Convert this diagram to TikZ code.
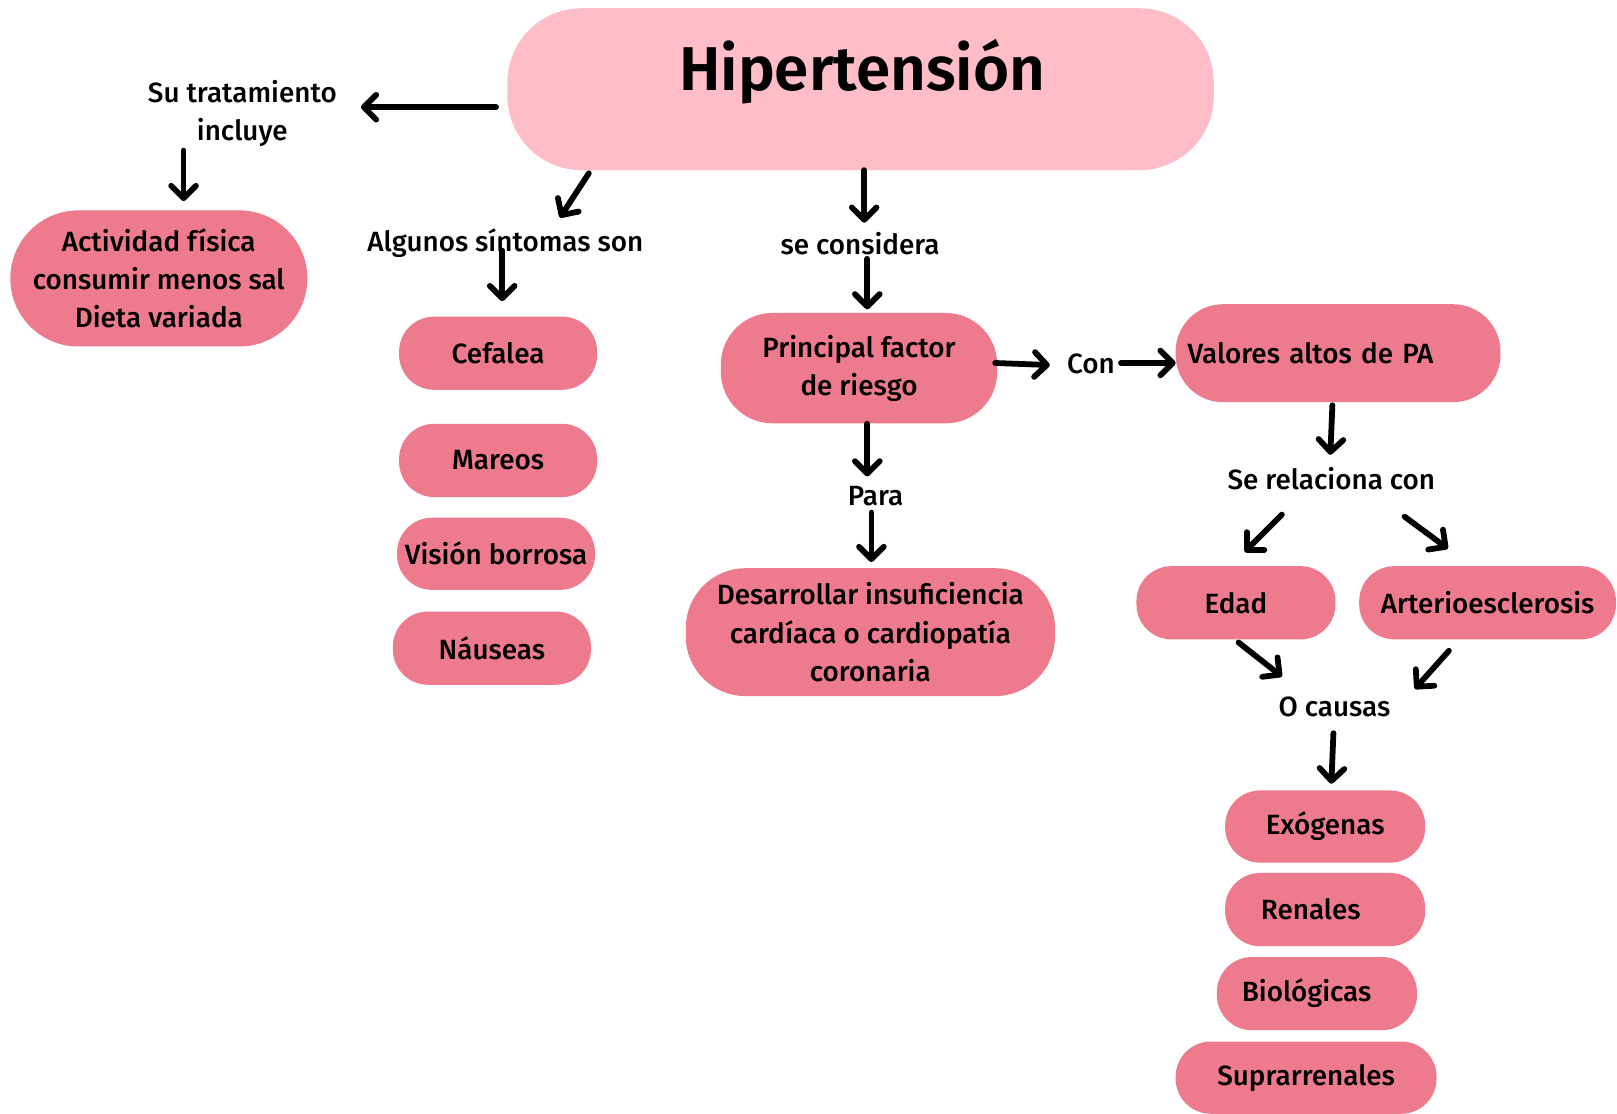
\documentclass[tikz,border=0pt]{standalone}
\usepackage{fontspec}
\setmainfont{Fira Sans}[UprightFont={* Medium}, BoldFont={* SemiBold}]
\usetikzlibrary{arrows.meta,calc}
\definecolor{lightpk}{HTML}{FFBDC7}
\definecolor{darkpk}{HTML}{EE7B8D}
\begin{document}
\begin{tikzpicture}[x=0.5pt,y=-0.5pt,
  txt/.style={font=\fontsize{13.5}{18.5}\selectfont},
  pill/.style={fill=darkpk, draw=none, rounded corners=#1, inner sep=0pt, align=center, txt},
  lbl/.style={inner sep=1pt, align=center, txt},
  arr/.style={line width=2.8pt, line cap=round, -{Straight Barb[length=6pt,width=12pt,round]}}]
\useasboundingbox (0,0) rectangle (1568,1080);
\fill[white] (0,0) rectangle (1568,1080);

% boxes
\node[pill=36pt, fill=lightpk, minimum width=342.5pt, minimum height=78.5pt] (hip) at (834.5,86.5) {};
\node[font=\fontsize{30}{36}\selectfont\bfseries, inner sep=0pt] (hipt) at (836,70) {Hipertensión};
\node[pill=33pt, minimum width=144pt, minimum height=66pt] (act) at (154,270) {Actividad física\\consumir menos sal\\Dieta variada};
\node[pill=17pt, minimum width=96pt, minimum height=35.5pt] (cef) at (483,342.5) {Cefalea};
\node[pill=17pt, minimum width=96pt, minimum height=35.5pt] (mar) at (483,446.5) {Mareos};
\node[pill=17pt, minimum width=96pt, minimum height=35pt] (vis) at (481,537) {Visión borrosa};
\node[pill=17pt, minimum width=96pt, minimum height=35.5pt] (nau) at (477,628.5) {Náuseas};
\node[pill=25pt, minimum width=134pt, minimum height=53.5pt] (pfr) at (833,357) {Principal factor\\de riesgo};
\node[pill=29pt, minimum width=179pt, minimum height=62pt] (des) at (844,613) {Desarrollar insuficiencia\\cardíaca o cardiopatía\\coronaria};
\node[pill=23pt, minimum width=157.5pt, minimum height=47.5pt, text width=150pt, align=left] (val) at (1297.5,342.5) {\hspace*{2pt}Valores altos de PA};
\node[pill=17pt, minimum width=96.5pt, minimum height=35.5pt] (edad) at (1198.5,584.5) {Edad};
\node[pill=17pt, minimum width=124.5pt, minimum height=35.5pt] (art) at (1442.5,584.5) {Arterioesclerosis};
\node[pill=17pt, minimum width=97pt, minimum height=35pt] (exo) at (1285,801.5) {Exógenas};
\node[pill=17pt, minimum width=97pt, minimum height=35.5pt] (ren) at (1285,882) {Renales\hspace*{14pt}};
\node[pill=17pt, minimum width=97pt, minimum height=35.5pt] (bio) at (1277,963.5) {Biológicas\hspace*{10pt}};
\node[pill=17pt, minimum width=126.5pt, minimum height=35pt] (sup) at (1266.5,1045) {Suprarrenales};

% labels
\node[lbl] (su) at (235,110) {Su tratamiento\\incluye};
\node[lbl] (alg) at (490,236) {Algunos síntomas son};
\node[lbl] (sec) at (834,236) {se considera};
\node[lbl] (con) at (1058,353) {Con};
\node[lbl] (para) at (849,481) {Para};
\node[lbl] (serel) at (1291,464) {Se relaciona con};
\node[lbl] (oca) at (1294,685) {O causas};

% arrows
\draw[arr] ($(hip.center)+(-353.5,17.5)$) -- ($(su.center)+(115,-6)$);
\draw[arr] ($(su.center)+(-57,36)$) -- ($(act.center)+(24,-75)$);
\draw[arr] ($(hip.center)+(-263.5,81.5)$) -- ($(alg.center)+(53,-25)$);
\draw[arr] ($(alg.center)+(-3,7)$) -- ($(cef.center)+(4,-50.5)$);
\draw[arr] ($(hip.center)+(3.5,78.5)$) -- ($(sec.center)+(4,-20)$);
\draw[arr] ($(sec.center)+(7,15)$) -- ($(pfr.center)+(8,-57)$);
\draw[arr] ($(pfr.center)+(132,-5)$) -- ($(con.center)+(-40,1)$);
\draw[arr] ($(con.center)+(29,-1)$) -- ($(val.center)+(-157.5,9.5)$);
\draw[arr] ($(pfr.center)+(8,54)$) -- ($(para.center)+(-8,-19)$);
\draw[arr] ($(para.center)+(-4,16)$) -- ($(des.center)+(1,-68)$);
\draw[arr] ($(val.center)+(-5.5,50.5)$) -- ($(serel.center)+(-1,-23)$);
\draw[arr] ($(serel.center)+(-48,35)$) -- ($(edad.center)+(8.5,-49.5)$);
\draw[arr] ($(serel.center)+(71,37)$) -- ($(art.center)+(-38.5,-52.5)$);
\draw[arr] ($(edad.center)+(2.5,38.5)$) -- ($(oca.center)+(-51,-29)$);
\draw[arr] ($(art.center)+(-37.5,46.5)$) -- ($(oca.center)+(78,-17)$);
\draw[arr] ($(oca.center)+(-1,26)$) -- ($(exo.center)+(6,-41.5)$);
\end{tikzpicture}
\end{document}
